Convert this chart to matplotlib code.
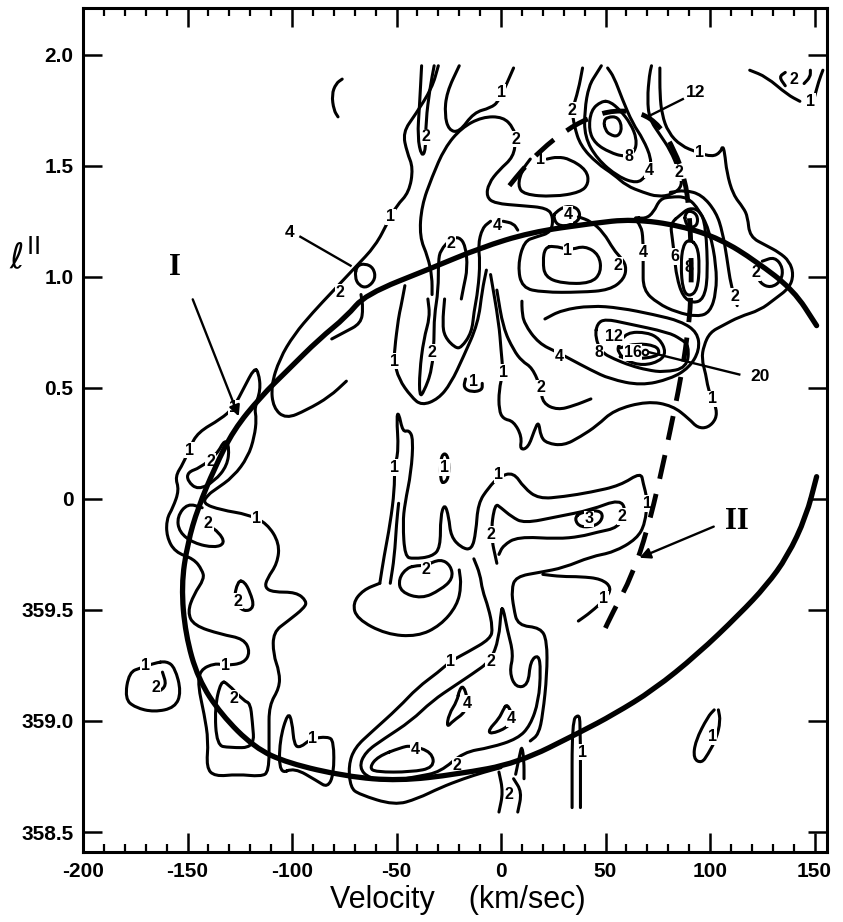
import matplotlib
matplotlib.use("Agg")
import matplotlib.pyplot as plt
from matplotlib.path import Path
from matplotlib.patches import PathPatch
from matplotlib.ticker import MultipleLocator, FixedLocator

plt.rcParams['font.family'] = ['Liberation Sans', 'DejaVu Sans']

# ---------------------------------------------------------------
# axes
vel_ticks = [-200, -150, -100, -50, 0, 50, 100, 150]
vel_labels = ['-200', '-150', '-100', '-50', '0', '50', '100', '150']
lon_ticks = [2.0, 1.5, 1.0, 0.5, 0.0, -0.5, -1.0, -1.5]
lon_labels = ['2.0', '1.5', '1.0', '0.5', '0', '359.5', '359.0', '358.5']

# ---------------------------------------------------------------
# ring I (solid, thick) : velocity, longitude
ring_v = [151, 140, 122, 105, 86, 63, 43, 14, -10, -33, -65, -74, -87, -102, -115,
          -128, -137, -145, -150, -153, -151, -145, -134, -118, -102, -74, -49, -21,
          8, 38, 54, 73, 94, 114, 127, 137, 146, 151]
ring_l = [0.78, 0.94, 1.07, 1.17, 1.23, 1.26, 1.24, 1.20, 1.13, 1.04, 0.92, 0.82, 0.72,
          0.58, 0.46, 0.31, 0.14, -0.04, -0.20, -0.39, -0.61, -0.81, -0.97, -1.12, -1.19,
          -1.25, -1.27, -1.24, -1.19, -1.05, -0.97, -0.86, -0.70, -0.52, -0.39, -0.26,
          -0.08, 0.10]

# arc II (dashed, thick)
arc_v = [4, 10, 19, 31, 43, 54, 67, 76, 83, 88, 90, 91, 91, 89, 86, 81, 76, 70, 63, 53, 49]
arc_l = [1.41, 1.48, 1.57, 1.66, 1.72, 1.75, 1.74, 1.68, 1.57, 1.44, 1.30, 1.12, 0.90,
         0.72, 0.54, 0.31, 0.09, -0.14, -0.34, -0.52, -0.60]

# ---------------------------------------------------------------
# contour lines (velocity, longitude)
c_top_hook = [(-76, 1.89), (-79, 1.87), (-81, 1.82), (-80, 1.75), (-78, 1.72)]
c_tongue2 = [(-38, 1.95), (-39, 1.77), (-40, 1.63), (-38, 1.54), (-36, 1.57), (-36, 1.70),
             (-34, 1.85), (-32, 1.95)]
c_left1 = [(-30, 1.95), (-33, 1.85), (-41, 1.73), (-47, 1.65), (-45, 1.56), (-42, 1.49),
           (-44, 1.38), (-50, 1.32), (-54, 1.25), (-60, 1.14), (-70, 1.04), (-81, 0.93),
           (-90, 0.84), (-99, 0.74), (-106, 0.63), (-110, 0.51), (-109, 0.41), (-103, 0.36),
           (-93, 0.40), (-82, 0.46), (-74, 0.53)]
c_zero = [(-69, 1.05), (-65, 1.06), (-61, 1.04), (-60, 0.99), (-64, 0.95), (-68, 0.96),
          (-70, 1.00), (-69, 1.05)]
c_stub = [(-81, 0.72), (-75, 0.75), (-67, 0.79), (-66, 0.86), (-67, 0.92)]
c_u1 = [(-20, 1.95), (-26, 1.83), (-27, 1.73), (-25, 1.66), (-20, 1.65), (-13, 1.74),
        (-5, 1.76), (-1, 1.79), (6, 1.94)]
c_big2 = [(-33, 0.92), (-33, 1.00), (-35, 1.09), (-39, 1.18), (-38, 1.32), (-33, 1.45),
          (-27, 1.58), (-19, 1.67), (-9, 1.72), (1, 1.72), (6, 1.67), (7, 1.62), (6, 1.54),
          (-1, 1.48), (-6, 1.42), (-7, 1.36), (-3, 1.33), (10, 1.32), (22, 1.31), (25, 1.27),
          (24, 1.20), (17, 1.18), (11, 1.16), (8, 1.05), (10, 0.95), (20, 0.93), (38, 0.93),
          (52, 0.94), (59, 0.99), (60, 1.05), (57, 1.09), (54, 1.12), (49, 1.20), (43, 1.25),
          (37, 1.27)]
c_mid2 = [(-35, 0.90), (-34, 0.82), (-37, 0.72), (-39, 0.57), (-39, 0.46), (-37, 0.48),
          (-33, 0.58), (-32, 0.72), (-32, 0.82), (-30, 0.94), (-30, 1.07), (-29, 1.12),
          (-24, 1.17), (-20, 1.18), (-17, 1.14), (-16, 1.04), (-18, 0.95), (-19, 0.90)]
c_u4 = [(-27, 0.90), (-28, 0.79), (-27, 0.73), (-22, 0.68), (-19, 0.68), (-14, 0.75),
        (-13, 0.84), (-11, 0.94), (-10, 1.07), (-11, 1.14), (-9, 1.22), (-5, 1.25)]
c_u4b = [(1, 1.25), (6, 1.24), (8, 1.21)]
c_alpha1 = [(-46, 0.96), (-48, 0.86), (-49, 0.82), (-51, 0.67), (-51, 0.62), (-49, 0.54),
            (-43, 0.46), (-38, 0.42), (-30, 0.45), (-24, 0.52), (-18, 0.64), (-11, 0.79),
            (-9, 0.94), (-7, 1.03)]
c_tiny1 = [(-17, 0.54), (-18, 0.50), (-14, 0.48), (-9, 0.49), (-9, 0.52)]
c_beta1 = [(-5, 1.01), (-1, 0.79), (0, 0.67), (1, 0.57), (-1, 0.49), (-1, 0.40), (1, 0.36),
           (6, 0.35), (10, 0.28), (9, 0.22), (13, 0.23), (16, 0.31), (18, 0.35), (19, 0.28),
           (22, 0.25), (30, 0.24), (38, 0.28), (46, 0.33), (54, 0.40), (70, 0.44), (82, 0.42),
           (90, 0.36), (94, 0.32), (99, 0.32), (103, 0.36), (103, 0.41), (101, 0.45),
           (99, 0.50), (98, 0.56), (96, 0.63), (97, 0.69), (100, 0.75), (106, 0.78),
           (114, 0.82), (124, 0.85), (131, 0.90), (138, 0.95), (140, 1.01), (138, 1.07),
           (133, 1.11), (127, 1.14), (119, 1.18), (118, 1.27), (116, 1.31), (111, 1.37),
           (108, 1.47), (107, 1.56), (106, 1.59), (105, 1.56), (101, 1.54), (94, 1.56),
           (86, 1.59), (80, 1.65), (77, 1.73), (76, 1.82), (76, 1.94)]
c_gamma2 = [(-2, 0.94), (1, 0.77), (6, 0.67), (10, 0.62), (15, 0.59), (19, 0.50), (20, 0.43),
            (27, 0.40), (35, 0.42), (43, 0.45)]
c_peak4 = [(10, 0.89), (10, 0.85), (11, 0.79), (18, 0.70), (27, 0.66), (33, 0.63), (43, 0.58),
           (52, 0.54), (67, 0.51), (81, 0.54), (90, 0.59), (95, 0.67), (94, 0.75), (86, 0.80),
           (73, 0.83), (57, 0.86), (43, 0.87), (29, 0.85), (21, 0.81)]
c_peak8 = [(46, 0.79), (50, 0.81), (60, 0.79), (80, 0.75), (86, 0.72), (90, 0.69), (89, 0.59),
           (78, 0.57), (70, 0.58), (62, 0.60), (54, 0.63), (48, 0.66), (45, 0.73), (46, 0.79)]
c_peak12 = [(60, 0.75), (70, 0.75), (76, 0.72), (79, 0.66), (76, 0.62), (68, 0.60), (60, 0.62),
            (56, 0.66), (56, 0.69), (60, 0.75)]
c_peak16 = [(57, 0.68), (65, 0.70), (74, 0.69), (76, 0.66), (74, 0.64), (65, 0.63), (57, 0.64)]
c_right2 = [(113, 0.87), (110, 0.96), (108, 1.09), (106, 1.20), (103, 1.29), (96, 1.37),
            (88, 1.39), (81, 1.38)]
c_bump2 = [(125, 1.07), (131, 1.09), (135, 1.04), (134, 0.98), (129, 0.95), (124, 0.97),
           (122, 1.02)]
c_top2 = [(39, 1.94), (37, 1.84), (34, 1.75), (35, 1.68), (38, 1.59), (46, 1.51), (54, 1.46),
          (60, 1.41), (68, 1.38), (75, 1.36), (82, 1.37), (87, 1.41), (85, 1.48), (81, 1.57),
          (76, 1.64), (71, 1.71), (70, 1.80), (71, 1.91), (72, 1.95)]
c_top4 = [(48, 1.95), (46, 1.92), (42, 1.86), (40, 1.75), (40, 1.63), (46, 1.53), (56, 1.45),
          (65, 1.42), (69, 1.45), (71, 1.48), (72, 1.53), (68, 1.62), (63, 1.69), (58, 1.80),
          (54, 1.90), (51, 1.94)]
c_top8 = [(48, 1.79), (43, 1.75), (42, 1.66), (45, 1.60), (52, 1.56), (59, 1.54), (64, 1.56),
          (65, 1.62), (62, 1.69), (57, 1.75), (52, 1.79), (48, 1.79)]
c_top12 = [(49, 1.70), (51, 1.72), (56, 1.72), (58, 1.67), (56, 1.63), (52, 1.64), (50, 1.66),
           (49, 1.70)]
c_under1 = [(14, 1.53), (10, 1.48), (8, 1.41), (11, 1.37), (25, 1.36), (38, 1.38), (42, 1.42),
            (41, 1.48), (33, 1.53), (27, 1.54), (22, 1.53)]
c_small4 = [(26, 1.29), (31, 1.32), (37, 1.31), (38, 1.26), (33, 1.23), (27, 1.23), (25, 1.27),
            (26, 1.29)]
c_box1 = [(21, 1.13), (20, 1.07), (21, 1.00), (29, 0.97), (43, 0.97), (48, 1.02), (47, 1.10),
          (40, 1.14), (33, 1.12), (25, 1.14), (21, 1.13)]
c_ring4 = [(63, 1.27), (67, 1.23), (68, 1.17), (68, 1.05), (68, 0.94), (75, 0.88), (84, 0.84),
           (94, 0.82), (100, 0.84), (103, 0.93), (103, 1.05), (100, 1.20), (95, 1.30),
           (89, 1.36), (81, 1.36), (76, 1.35), (73, 1.29), (69, 1.26), (63, 1.27)]
c_ring6 = [(81, 1.24), (82, 1.17), (83, 1.09), (84, 1.00), (87, 0.91), (92, 0.88), (97, 0.90),
           (99, 1.00), (98, 1.23), (95, 1.30), (90, 1.31), (86, 1.28), (81, 1.24)]
c_dot10 = [(88, 1.28), (90, 1.30), (94, 1.28), (94, 1.23), (90, 1.22), (88, 1.25), (88, 1.28)]
c_ring8 = [(90, 1.17), (87, 1.14), (86, 1.05), (87, 0.94), (90, 0.91), (94, 0.94), (95, 1.05),
           (94, 1.14), (90, 1.17)]
c_corner1 = [(119, 1.93), (127, 1.90), (137, 1.82), (143, 1.79)]
c_corner1b = [(150, 1.81), (152, 1.88), (154, 1.93)]
c_corner2 = [(136, 1.92), (133, 1.90), (136, 1.86)]
c_corner2b = [(145, 1.87), (148, 1.90), (148, 1.93)]
c_west1 = [(-118, 0.59), (-123, 0.50), (-128, 0.41), (-134, 0.36), (-145, 0.30), (-149, 0.23),
           (-152, 0.16), (-156, 0.10), (-154, 0.04), (-157, -0.04), (-160, -0.09),
           (-160, -0.17), (-156, -0.24), (-147, -0.27), (-143, -0.32), (-142, -0.36),
           (-147, -0.43), (-150, -0.51), (-147, -0.57), (-134, -0.61), (-123, -0.63),
           (-120, -0.69), (-123, -0.74), (-132, -0.75), (-137, -0.74), (-144, -0.77),
           (-145, -0.84), (-142, -0.97), (-140, -1.09), (-141, -1.21), (-137, -1.25),
           (-126, -1.24), (-115, -1.25), (-111, -1.23), (-111, -1.06), (-111, -0.93),
           (-106, -0.85), (-106, -0.78), (-109, -0.70), (-109, -0.60), (-102, -0.55),
           (-94, -0.49), (-93, -0.46), (-98, -0.42), (-109, -0.42), (-113, -0.40),
           (-112, -0.36), (-107, -0.29), (-106, -0.20), (-112, -0.11), (-121, -0.07),
           (-134, -0.05), (-143, -0.02), (-140, 0.02), (-137, 0.04), (-128, 0.10),
           (-121, 0.19), (-118, 0.28), (-117, 0.36), (-118, 0.41), (-115, 0.49),
           (-116, 0.57), (-118, 0.59)]
c_west2a = [(-132, 0.27), (-136, 0.20), (-144, 0.14), (-150, 0.12), (-150, 0.08), (-145, 0.04),
            (-137, 0.08), (-131, 0.15), (-130, 0.23), (-132, 0.27)]
c_west2b = [(-143, -0.04), (-150, -0.02), (-155, -0.08), (-154, -0.15), (-147, -0.20),
            (-137, -0.22), (-132, -0.20), (-135, -0.15), (-140, -0.12)]
c_west2c = [(-126, -0.37), (-128, -0.46), (-123, -0.51), (-118, -0.49), (-120, -0.42),
            (-123, -0.37), (-126, -0.37)]
c_iso1 = [(-166, -0.74), (-172, -0.76), (-178, -0.78), (-180, -0.90), (-175, -0.94),
          (-166, -0.96), (-156, -0.94), (-153, -0.87), (-156, -0.76), (-160, -0.73),
          (-166, -0.74)]
c_iso2 = [(-162, -0.78), (-160, -0.84), (-164, -0.87)]
c_west2d = [(-134, -0.82), (-137, -0.94), (-136, -1.11), (-130, -1.12), (-118, -1.12),
            (-119, -1.00), (-120, -0.92), (-123, -0.91), (-131, -0.83), (-134, -0.82)]
c_foot1 = [(-106, -1.24), (-106, -1.09), (-102, -0.96), (-100, -1.00), (-99, -1.11),
           (-96, -1.12), (-91, -1.08), (-83, -1.07), (-80, -1.09), (-80, -1.24), (-83, -1.30),
           (-88, -1.27), (-99, -1.21), (-106, -1.24)]
c_centre1 = [(-58, -0.38), (-56, -0.26), (-53, -0.11), (-51, 0.04), (-51, 0.14), (-49, 0.22),
             (-50, 0.37), (-49, 0.39), (-47, 0.30), (-44, 0.31), (-42, 0.27), (-43, 0.12),
             (-46, -0.02), (-47, -0.11), (-46, -0.26), (-42, -0.27), (-33, -0.26),
             (-29, -0.22), (-29, -0.08), (-27, -0.02), (-25, -0.08), (-24, -0.17),
             (-19, -0.22), (-14, -0.23), (-12, -0.15), (-11, -0.02), (-6, 0.05), (-1, 0.10),
             (6, 0.12), (11, 0.05), (18, 0.00), (30, 0.01), (43, 0.03), (57, 0.06), (67, 0.12),
             (68, 0.07), (70, 0.00), (69, -0.11), (65, -0.18), (54, -0.24), (43, -0.26),
             (30, -0.31), (19, -0.33), (7, -0.35), (5, -0.41), (6, -0.49), (8, -0.57),
             (19, -0.58), (22, -0.64), (22, -0.79), (20, -0.97), (18, -1.06), (14, -1.09)]
c_centre1b = [(-49, -0.02), (-50, -0.11), (-51, -0.26), (-53, -0.38)]
c_loop1 = [(-58, -0.38), (-66, -0.41), (-71, -0.47), (-69, -0.54), (-55, -0.61), (-40, -0.62),
           (-29, -0.57), (-21, -0.48), (-19, -0.39), (-20, -0.32)]
c_loop2 = [(-45, -0.31), (-49, -0.36), (-48, -0.42), (-38, -0.45), (-29, -0.41), (-23, -0.36),
           (-24, -0.30), (-29, -0.27), (-36, -0.30), (-40, -0.30), (-45, -0.31)]
c_south1 = [(-13, -0.27), (-10, -0.34), (-9, -0.41), (-6, -0.49), (-4, -0.58), (-5, -0.63),
            (-16, -0.69), (-24, -0.73), (-30, -0.78), (-40, -0.85), (-49, -0.94), (-62, -1.05),
            (-70, -1.12), (-73, -1.20), (-72, -1.30), (-68, -1.33), (-51, -1.38), (-40, -1.35),
            (-29, -1.30), (-18, -1.26), (-8, -1.23), (0, -1.21)]
c_south2 = [(0, -0.50), (-1, -0.63), (-5, -0.73), (-14, -0.79), (-22, -0.84), (-33, -0.91),
            (-43, -1.00), (-56, -1.08), (-65, -1.14), (-68, -1.21), (-63, -1.26), (-52, -1.27),
            (-40, -1.25), (-29, -1.23), (-18, -1.14), (-5, -1.12), (8, -1.08), (14, -1.02),
            (18, -0.91), (19, -0.77), (18, -0.70), (14, -0.73), (13, -0.84), (7, -0.85),
            (4, -0.78), (6, -0.70), (3, -0.59), (1, -0.49), (0, -0.50)]
c_south4a = [(-20, -0.86), (-18, -0.84), (-16, -0.90), (-17, -0.96), (-23, -1.00), (-26, -1.03),
             (-25, -0.97), (-21, -0.91), (-20, -0.86)]
c_south4b = [(3, -0.92), (6, -0.99), (3, -1.03), (-5, -1.06), (-6, -1.04), (-1, -0.99),
             (1, -0.95), (3, -0.92)]
c_south4c = [(-48, -1.12), (-43, -1.11), (-33, -1.14), (-32, -1.21), (-43, -1.23), (-60, -1.23),
             (-63, -1.21), (-59, -1.16), (-48, -1.12)]
c_spike_a = [(-1, -1.23), (1, -1.32), (-1, -1.41)]
c_spike_b = [(6, -1.26), (10, -1.32), (8, -1.41)]
c_spike_c = [(7, -1.24), (9, -1.15), (10, -1.11), (11, -1.18), (11, -1.26)]
c_thin1 = [(34, -1.39), (34, -1.00), (37, -0.97), (38, -1.00), (38, -1.39)]
c_bar2 = [(-2, -0.29), (-5, -0.16), (-3, -0.02), (0, -0.04), (5, -0.08), (11, -0.11),
          (27, -0.08), (43, -0.05), (57, 0.00), (60, -0.06), (56, -0.13), (46, -0.15),
          (38, -0.17), (27, -0.18), (8, -0.17), (1, -0.21), (-1, -0.25)]
c_bar3 = [(38, -0.06), (47, -0.05), (49, -0.08), (46, -0.12), (38, -0.13), (35, -0.09),
          (38, -0.06)]
c_tail1 = [(20, -0.34), (29, -0.35), (38, -0.35), (48, -0.36), (53, -0.40), (50, -0.45),
           (43, -0.51), (37, -0.55)]
c_finger1 = [(-29, 0.08), (-29, 0.18), (-27, 0.21), (-25, 0.18), (-25, 0.10), (-27, 0.07),
             (-29, 0.08)]
c_east1 = [(102, -0.95), (99, -0.98), (93, -1.09), (92, -1.17), (96, -1.19), (99, -1.15),
           (103, -1.08), (105, -1.00), (104, -0.95)]

contours = [c_top_hook, c_tongue2, c_left1, c_zero, c_stub, c_u1, c_big2, c_mid2, c_u4,
            c_u4b, c_alpha1, c_tiny1, c_beta1, c_gamma2, c_peak4, c_peak8, c_peak12,
            c_peak16, c_right2, c_bump2, c_top2, c_top4, c_top8, c_top12, c_under1,
            c_small4, c_box1, c_ring4, c_ring6, c_dot10, c_ring8, c_corner1, c_corner1b,
            c_corner2, c_corner2b, c_west1, c_west2a, c_west2b, c_west2c, c_iso1, c_iso2,
            c_west2d, c_foot1, c_centre1, c_centre1b, c_loop1, c_loop2, c_south1, c_south2,
            c_south4a, c_south4b, c_south4c, c_spike_a, c_spike_b, c_spike_c, c_thin1,
            c_bar2, c_bar3, c_tail1, c_finger1, c_east1]

# contour level labels: text, velocity, longitude
level_text = ['2', '1', '2', '1', '2', '2', '2', '2', '4', '1', '1', '1', '1', '1', '2',
              '4', '8', '12', '16', '2', '2', '2', '2', '4', '8', '1', '4', '1', '4', '6',
              '8', '1', '2', '1', '1', '1', '1', '2', '2', '2', '1', '2', '2', '1', '1', '1',
              '1', '2', '1', '2', '2', '4', '4', '4', '2', '1', '2', '2', '3', '1', '1', '1']
level_v = [-36, -53, -77, 0, 7, 56, -33, -24, -2, -51, -13, 1, 101, 95, 19,
           28, 47, 54, 63, 112, 122, 34, 85, 71, 61, 19, 32, 32, 68, 83,
           90, 148, 140, -128, -149, -117, -132, -139, -140, -126, -170, -165, -128, -90, -51, -1,
           70, -36, -24, -5, -21, -16, 5, -41, 4, 39, -5, 58, 42, 49, -27, 101]
level_l = [1.63, 1.27, 0.93, 1.83, 1.62, 1.05, 0.66, 1.15, 1.23, 0.62, 0.53, 0.57, 0.45, 1.56, 0.50,
           0.64, 0.66, 0.73, 0.66, 0.91, 1.02, 1.75, 1.47, 1.48, 1.54, 1.53, 1.28, 1.12, 1.11, 1.09,
           1.04, 1.79, 1.89, 0.41, 0.22, -0.09, -0.75, 0.17, -0.11, -0.46, -0.75, -0.85, -0.90, -1.08, 0.14, 0.11,
           -0.02, -0.32, -0.73, -0.73, -1.20, -0.92, -0.99, -1.13, -1.33, -1.14, -0.16, -0.08, -0.09, -0.45, 0.14, -1.07]

# pointer lines with their values
pointer_text = ['4', '12', '20']
pointer_text_v = [-101, 93, 124]
pointer_text_l = [1.20, 1.83, 0.55]
pointer_from_v = [-96, 87, 114]
pointer_from_l = [1.18, 1.80, 0.56]
pointer_to_v = [-72, 70, 71]
pointer_to_l = [1.05, 1.72, 0.66]
peak20_v = [69]
peak20_l = [0.66]


def smooth_path(pts):
    """Path through the traced points, corners rounded with quadratic curves."""
    if len(pts) > 3 and pts[0] == pts[-1]:
        p = pts[:-1]
        n = len(p)
        mids = [((p[i][0] + p[(i + 1) % n][0]) / 2, (p[i][1] + p[(i + 1) % n][1]) / 2)
                for i in range(n)]
        verts = [mids[-1]]
        codes = [Path.MOVETO]
        for i in range(n):
            verts += [p[i], mids[i]]
            codes += [Path.CURVE3, Path.CURVE3]
        return Path(verts, codes)
    if len(pts) < 3:
        return Path(pts, [Path.MOVETO] + [Path.LINETO] * (len(pts) - 1))
    mids = [((pts[i][0] + pts[i + 1][0]) / 2, (pts[i][1] + pts[i + 1][1]) / 2)
            for i in range(len(pts) - 1)]
    verts = [pts[0], mids[0]]
    codes = [Path.MOVETO, Path.LINETO]
    for i in range(1, len(pts) - 1):
        verts += [pts[i], mids[i]]
        codes += [Path.CURVE3, Path.CURVE3]
    verts.append(pts[-1])
    codes.append(Path.LINETO)
    return Path(verts, codes)


# ---------------------------------------------------------------
fig = plt.figure(figsize=(8.43, 9.22), dpi=100)
ax = fig.add_axes([0.0985, 0.0759, 0.8826, 0.9154])

for c in contours:
    ax.add_patch(PathPatch(smooth_path(c), fill=False, ec='black', lw=2.2,
                           capstyle='round', joinstyle='round', zorder=2))

for t, v, l in zip(level_text, level_v, level_l):
    ax.text(v, l, t, ha='center', va='center', fontsize=11.5, fontweight='bold',
            zorder=3, bbox=dict(boxstyle='square,pad=0.05', fc='white', ec='none'))

for t, tv, tl, fv, fl, ev, el in zip(pointer_text, pointer_text_v, pointer_text_l,
                                     pointer_from_v, pointer_from_l, pointer_to_v, pointer_to_l):
    ax.plot([fv, ev], [fl, el], color='black', lw=1.7, zorder=3)
    ax.text(tv, tl, t, ha='center', va='center', fontsize=12.5, fontweight='bold', zorder=3)
ax.plot(peak20_v, peak20_l, 'o', ms=4, mfc='white', mec='black', mew=1.5, zorder=3)

ring_pts = list(zip(ring_v, ring_l))
ax.add_patch(PathPatch(smooth_path(ring_pts), fill=False, ec='black', lw=3.8,
                       capstyle='round', joinstyle='round', zorder=4))
arc_pts = list(zip(arc_v, arc_l))
ax.add_patch(PathPatch(smooth_path(arc_pts), fill=False, ec='black', lw=3.5,
                       linestyle=(0, (5, 3.2)), zorder=4))

# labels I and II with arrows
ax.text(-156, 1.04, 'I', fontsize=22, fontweight='bold', family='Liberation Serif',
        ha='center', va='center')
ax.annotate('', xy=(-125, 0.36), xytext=(-148, 0.91),
            arrowprops=dict(arrowstyle='-|>', lw=1.7, color='black', mutation_scale=16))
ax.text(113, -0.10, 'II', fontsize=22, fontweight='bold', family='Liberation Serif',
        ha='center', va='center')
ax.annotate('', xy=(65, -0.27), xytext=(103, -0.12),
            arrowprops=dict(arrowstyle='-|>', lw=1.7, color='black', mutation_scale=16))

# axes styling
ax.set_xlim(-200, 156)
ax.set_ylim(-1.59, 2.21)
ax.xaxis.set_major_locator(FixedLocator(vel_ticks))
ax.xaxis.set_minor_locator(MultipleLocator(10))
ax.set_xticklabels(vel_labels)
ax.yaxis.set_major_locator(FixedLocator(lon_ticks))
ax.set_yticklabels(lon_labels)
ax.tick_params(which='major', direction='in', length=14, width=1.8, top=True, right=True,
               labelsize=15, pad=7)
ax.tick_params(which='minor', direction='in', length=6, width=1.6, top=True, right=True)
ax.tick_params(axis='y', which='minor', left=False, right=False)
for lab in ax.get_xticklabels() + ax.get_yticklabels():
    lab.set_fontweight('bold')
for s in ax.spines.values():
    s.set_linewidth(2.2)

fig.text(0.543, 0.024, 'Velocity    (km/sec)', ha='center', va='center', fontsize=22)
fig.text(0.029, 0.722, r'$\ell^{\mathrm{II}}$', ha='center', va='center', fontsize=25)

fig.savefig('out.png', dpi=100)
